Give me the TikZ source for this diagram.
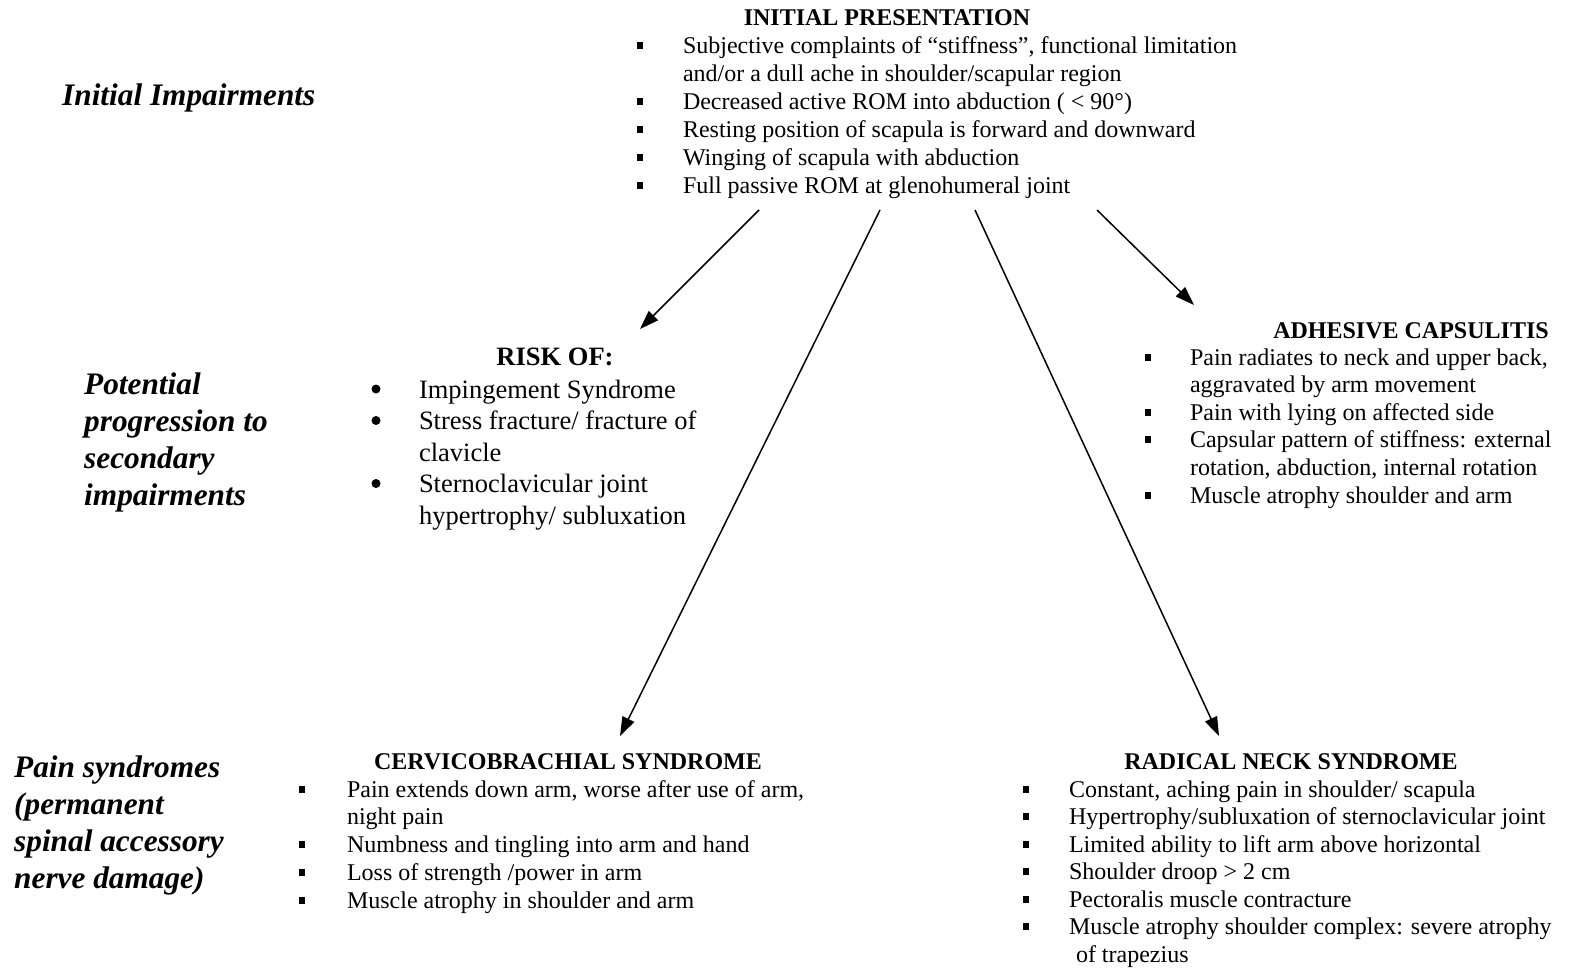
\documentclass[tikz,border=0pt]{standalone}
\usepackage{fontspec}
\setmainfont{Liberation Serif}
\usetikzlibrary{arrows.meta}
\newcommand{\sqb}{\raisebox{4.5pt}{\rule{6pt}{7pt}}}
\newcommand{\bigdot}{\raisebox{4.5pt}{\tikz\fill[black] (0pt,0pt) circle (4.5pt);}}
\newcommand{\li}[2]{\par\noindent\makebox[#1][l]{\sqb}#2}
\newcommand{\ldot}[2]{\par\noindent\makebox[#1][l]{\bigdot}#2}
\newcommand{\lc}[2]{\par\noindent\hspace*{#1}#2}
\tikzset{
  blk/.style={anchor=base west, inner sep=0pt, outer sep=0pt},
  hd/.style={anchor=base, inner sep=0pt, font=\fontsize{24}{28}\selectfont\bfseries},
  lbl/.style={anchor=base west, inner sep=0pt, align=left, font=\fontsize{31.3}{37}\selectfont\bfseries\itshape},
  arr/.style={line width=1.5pt, -{Triangle[length=19pt,width=13pt]}}
}
\begin{document}
\begin{tikzpicture}[x=1pt,y=-1pt]
\useasboundingbox (0,0) rectangle (1570,969);
% left labels (base anchor = last line)
\node[lbl] (l1) at (62,105) {Initial Impairments};
\node[lbl] (l2) at (84,505) {Potential\\progression to\\secondary\\impairments};
\node[lbl] (l3) at (14,888) {Pain syndromes\\(permanent\\spinal accessory\\nerve damage)};
% initial presentation
\node[hd] (h1) at (887,25) {INITIAL PRESENTATION};
\node[blk] (b1) at (637,53) {\parbox[t]{640pt}{\fontsize{24}{28}\selectfont
 \li{46pt}{Subjective complaints of “stiffness”, functional limitation}
 \lc{46pt}{and/or a dull ache in shoulder/scapular region}
 \li{46pt}{Decreased active ROM into abduction ( < 90°)}
 \li{46pt}{Resting position of scapula is forward and downward}
 \li{46pt}{Winging of scapula with abduction}
 \li{46pt}{Full passive ROM at glenohumeral joint}}};
% risk of
\node[hd, font=\fontsize{26.5}{31.5}\selectfont\bfseries] (h2) at (555,365) {RISK OF:};
\node[blk] (b2) at (371.5,398) {\parbox[t]{360pt}{\fontsize{26.5}{31.5}\selectfont
 \ldot{47.5pt}{Impingement Syndrome}
 \ldot{47.5pt}{Stress fracture/ fracture of}
 \lc{47.5pt}{clavicle}
 \ldot{47.5pt}{Sternoclavicular joint}
 \lc{47.5pt}{hypertrophy/ subluxation}}};
% adhesive capsulitis
\node[hd] (h3) at (1411,338) {ADHESIVE CAPSULITIS};
\node[blk] (b3) at (1145,365) {\parbox[t]{420pt}{\fontsize{24}{27.6}\selectfont
 \li{45pt}{Pain radiates to neck and upper back,}
 \lc{45pt}{aggravated by arm movement}
 \li{45pt}{Pain with lying on affected side}
 \li{45pt}{Capsular pattern of stiffness: external}
 \lc{45pt}{rotation, abduction, internal rotation}
 \li{45pt}{Muscle atrophy shoulder and arm}}};
% cervicobrachial
\node[hd] (h4) at (568,769) {CERVICOBRACHIAL SYNDROME};
\node[blk] (b4) at (299,797) {\parbox[t]{540pt}{\fontsize{24}{27.75}\selectfont
 \li{48pt}{Pain extends down arm, worse after use of arm,}
 \lc{48pt}{night pain}
 \li{48pt}{Numbness and tingling into arm and hand}
 \li{48pt}{Loss of strength /power in arm}
 \li{48pt}{Muscle atrophy in shoulder and arm}}};
% radical neck
\node[hd] (h5) at (1291,769) {RADICAL NECK SYNDROME};
\node[blk] (b5) at (1023,797) {\parbox[t]{545pt}{\fontsize{24}{27.5}\selectfont
 \li{46pt}{Constant, aching pain in shoulder/ scapula}
 \li{46pt}{Hypertrophy/subluxation of sternoclavicular joint}
 \li{46pt}{Limited ability to lift arm above horizontal}
 \li{46pt}{Shoulder droop > 2 cm}
 \li{46pt}{Pectoralis muscle contracture}
 \li{46pt}{Muscle atrophy shoulder complex: severe atrophy}
 \lc{53pt}{of trapezius}}};
% connectors
\coordinate (s1) at (759,210);
\coordinate (e1) at (640,329);
\coordinate (s2) at (880,210);
\coordinate (e2) at (620,736);
\coordinate (s3) at (975,210);
\coordinate (e3) at (1219,736);
\coordinate (s4) at (1097,210);
\coordinate (e4) at (1194,305);
\draw[arr] (s1) -- (e1);
\draw[arr] (s2) -- (e2);
\draw[arr] (s3) -- (e3);
\draw[arr] (s4) -- (e4);
\end{tikzpicture}
\end{document}
